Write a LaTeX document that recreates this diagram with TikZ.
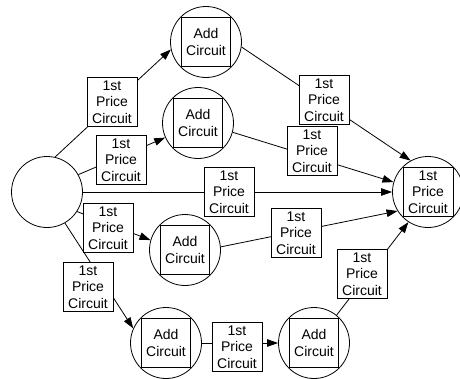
\documentclass[tikz,border=0pt]{standalone}
\usepackage{fontspec}
\setmainfont{Liberation Sans}
\usetikzlibrary{arrows.meta}
\begin{document}
\begin{tikzpicture}[x=1pt,y=-1pt,
  line width=0.8pt,
  txt/.style={font=\fontsize{14}{16.5}\selectfont, align=center},
  lbl/.style={txt, draw, fill=white, minimum width=50pt, minimum height=49pt, inner sep=0pt},
  addbox/.style={txt, draw, minimum width=49pt, minimum height=49pt, inner sep=0pt},
  ring/.style={circle, draw, minimum size=71pt, inner sep=0pt},
  arr/.style={-{Triangle[length=11pt,width=7.5pt]}}]
\useasboundingbox (0,0) rectangle (460,378);

% circles
\node[ring] (S) at (47,192) {};
\node[ring] (A1) at (206,42) {};
\node[addbox] (A1b) at (A1) {Add\\Circuit};
\node[ring] (A2) at (198,123) {};
\node[addbox] (A2b) at (A2) {Add\\Circuit};
\node[ring] (A3) at (185,250) {};
\node[addbox] (A3b) at (A3) {Add\\Circuit};
\node[ring] (A4) at (166,343) {};
\node[addbox] (A4b) at (A4) {Add\\Circuit};
\node[ring] (A5) at (314,343) {};
\node[addbox] (A5b) at (A5) {Add\\Circuit};
\node[ring] (T) at (428,192) {};
\node[lbl] (Tb) at (T) {1st\\Price\\Circuit};

% connectors
\draw[arr] (S.77) -- (A1.192);
\draw[arr] (S.29) -- (A2.204);
\draw[arr] (S.0) -- (T.180);
\draw[arr] (S.327) -- (A3.164);
\draw[arr] (S.300) -- (A4.156);
\draw[arr] (A1.352) -- (T.119);
\draw[arr] (A2.345) -- (T.164);
\draw[arr] (A3.5) -- (T.212);
\draw[arr] (A4.0) -- (A5.180);
\draw[arr] (A5.51) -- (T.237);

% price labels on the connectors
\node[lbl] (L1) at (112,102) {1st\\Price\\Circuit};
\node[lbl] (L2) at (121,160) {1st\\Price\\Circuit};
\node[lbl] (L3) at (324,100) {1st\\Price\\Circuit};
\node[lbl] (L4) at (312,151) {1st\\Price\\Circuit};
\node[lbl] (L5) at (229,192) {1st\\Price\\Circuit};
\node[lbl] (L6) at (108,228) {1st\\Price\\Circuit};
\node[lbl] (L7) at (296,233) {1st\\Price\\Circuit};
\node[lbl] (L8) at (88,287) {1st\\Price\\Circuit};
\node[lbl] (L9) at (237,347) {1st\\Price\\Circuit};
\node[lbl] (L10) at (362,274) {1st\\Price\\Circuit};
\end{tikzpicture}
\end{document}
